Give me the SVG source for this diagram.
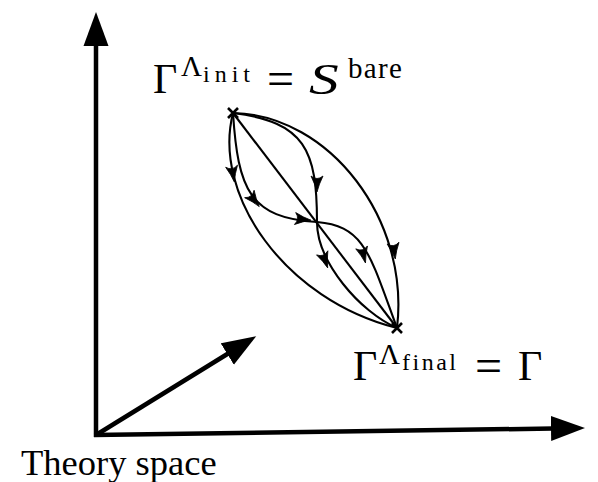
<svg xmlns="http://www.w3.org/2000/svg" width="598" height="482" viewBox="0 0 598 482" font-family="Liberation Serif">
<style>
.axis{stroke:#000;stroke-width:4.5;fill:none}
.flow{stroke:#000;stroke-width:2.1;fill:none}
.cross{stroke:#000;stroke-width:2.6;fill:none}
.ah{fill:#000;stroke:#000;stroke-width:0.8;stroke-linejoin:round}
text{font-family:Liberation Serif,serif}
</style>
<defs>
<marker id="axhead" markerUnits="userSpaceOnUse" markerWidth="36" markerHeight="26" viewBox="0 0 36 26" refX="2" refY="13" orient="auto">
<path d="M0,0.5 L34,13 L0,25.5 Z" fill="#000"/>
</marker>
</defs>
<rect width="598" height="482" fill="#fff"/>
<g id="axes">
<line class="axis" x1="96" y1="437" x2="96" y2="44" marker-end="url(#axhead)"/>
<line class="axis" x1="94" y1="435" x2="553" y2="428.5" marker-end="url(#axhead)"/>
<line class="axis" x1="96" y1="435" x2="229" y2="353" marker-end="url(#axhead)"/>
<text x="21" y="475" font-size="36.5" font-family="Liberation Serif">Theory space</text>
</g>
<g id="connectors">
<path class="flow" d="M233,113 L397,328"/>
<path class="flow" d="M233,113 C330,115 410,220 397,328"/>
<path class="flow" d="M233,113 C212,195 285,300 397,328"/>
<path class="flow" d="M233,113 C238,190 250,218 317,222 C365,226 370,255 397,328"/>
<path class="flow" d="M233,113 C305,122 317,150 317,222 C317,262 360,312 397,328"/>
<path class="ah" transform="translate(234,180) rotate(80)" d="M2,0 Q-6,-2 -14,-6 Q-9,0 -14,6 Q-6,2 2,0 Z"/>
<path class="ah" transform="translate(395,257) rotate(82)" d="M2,0 Q-6,-2 -14,-6 Q-9,0 -14,6 Q-6,2 2,0 Z"/>
<path class="ah" transform="translate(258,205) rotate(52)" d="M2,0 Q-6,-2 -14,-6 Q-9,0 -14,6 Q-6,2 2,0 Z"/>
<path class="ah" transform="translate(309,220) rotate(6)" d="M2,0 Q-6,-2 -14,-6 Q-9,0 -14,6 Q-6,2 2,0 Z"/>
<path class="ah" transform="translate(365,261) rotate(76)" d="M2,0 Q-6,-2 -14,-6 Q-9,0 -14,6 Q-6,2 2,0 Z"/>
<path class="ah" transform="translate(317,190) rotate(90)" d="M2,0 Q-6,-2 -14,-6 Q-9,0 -14,6 Q-6,2 2,0 Z"/>
<path class="ah" transform="translate(327,266) rotate(70)" d="M2,0 Q-6,-2 -14,-6 Q-9,0 -14,6 Q-6,2 2,0 Z"/>
</g>
<g id="node-init">
<path class="cross" d="M228,108 L238,118 M238,108 L228,118"/>
<text x="153" y="93" font-size="42">Γ</text>
<text x="181" y="76" font-size="29">Λ</text>
<text x="203" y="82" font-size="24" letter-spacing="5">init</text>
<text x="267" y="95" font-size="48">=</text>
<text transform="translate(309,94) scale(1.35,1)" font-size="44" font-style="italic">S</text>
<text x="348" y="78" font-size="29" letter-spacing="1.3">bare</text>
</g>
<g id="node-final">
<path class="cross" d="M392,323 L402,333 M402,323 L392,333"/>
<text x="353" y="380" font-size="42">Γ</text>
<text x="379" y="364" font-size="29">Λ</text>
<text x="402" y="370" font-size="24" letter-spacing="2.5">final</text>
<text x="475" y="382" font-size="48">=</text>
<text x="518" y="380" font-size="42">Γ</text>
</g>
</svg>
